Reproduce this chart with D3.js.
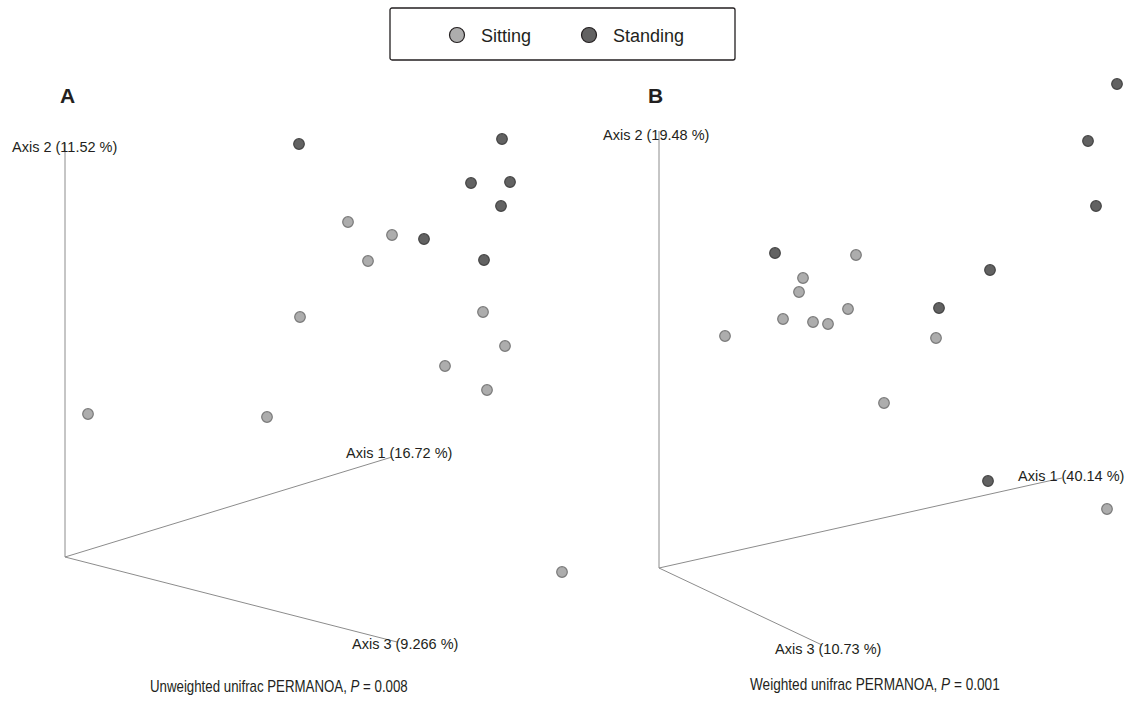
<!DOCTYPE html>
<html>
<head>
<meta charset="utf-8">
<script src="https://cdn.jsdelivr.net/npm/d3@7"></script>
<style>
  body { margin: 0; background: #fff; }
  text { font-family: "Liberation Sans", Arial, sans-serif; fill: #231f20; }
</style>
</head>
<body>
<div class="chart"></div>
<script>
// projected PCoA coordinates (screen plane, origin at axes corner)
var groups = ["Sitting", "Standing"];

var sitA = [[28.3,33.5],[32.7,32.2],[30.3,29.6],[23.5,24.0],[41.8,24.5],[44.0,21.1],
            [38.0,19.1],[42.2,16.7],[2.3,14.3],[20.2,14.0],[49.7,-1.5]];
var standA = [[23.4,41.3],[43.7,41.8],[40.6,37.4],[44.5,37.5],[43.6,35.1],[35.9,31.8],[41.9,29.7]];
var axesA = [[0,41.4],[32.7,10.0],[33.2,-8.5]];   // axis 2, axis 1, axis 3 tips
var axisLabelsA = ["Axis 2 (11.52 %)", "Axis 1 (16.72 %)", "Axis 3 (9.266 %)"];

var sitB = [[19.7,31.3],[14.4,29.0],[14.0,27.6],[18.9,25.9],[12.4,24.9],[15.4,24.6],
            [16.9,24.4],[6.6,23.2],[27.7,23.0],[22.5,16.5],[44.8,5.9]];
var standB = [[45.8,48.4],[42.9,42.7],[43.7,36.2],[11.6,31.5],[33.1,29.8],[28.0,26.0],[32.9,8.7]];
var axesB = [[0,43.7],[40.3,9.0],[16.3,-7.7]];
var axisLabelsB = ["Axis 2 (19.48 %)", "Axis 1 (40.14 %)", "Axis 3 (10.73 %)"];

var width = 1136, height = 722;
var fillCol = {Sitting: "#adadad", Standing: "#626262"};
var strokeCol = {Sitting: "#7a7a7a", Standing: "#444444"};

var svg = d3.select(".chart").append("svg")
    .attr("width", width)
    .attr("height", height);

// legend
var leg = svg.append("g").attr("transform", "translate(390,8)");
leg.append("rect")
    .attr("x", 0).attr("y", 0)
    .attr("width", 345).attr("height", 52)
    .attr("rx", 2)
    .style("fill", "#fff")
    .style("stroke", "#231f20")
    .style("stroke-width", 1.3);
var legX = d3.scalePoint().domain(groups).range([67, 199]);
groups.forEach(function(g) {
    leg.append("circle")
        .attr("cx", legX(g)).attr("cy", 27).attr("r", 7.5)
        .style("fill", fillCol[g])
        .style("stroke", "#231f20")
        .style("stroke-width", 1.2);
    leg.append("text")
        .attr("x", legX(g) + 24).attr("y", 33.5)
        .style("font-size", "18px")
        .text(g);
});

function drawPanel(p) {
    var x = d3.scaleLinear().domain([0, 50]).range([p.ox, p.ox + 500]);
    var y = d3.scaleLinear().domain([0, 45]).range([p.oy, p.oy - 450]);
    var g = svg.append("g");

    g.append("text")
        .attr("x", p.letterX).attr("y", 103)
        .style("font-size", "21px")
        .style("font-weight", "bold")
        .text(p.letter);

    g.selectAll(".axis-line")
        .data(p.axes)
      .enter().append("line")
        .attr("class", "axis-line")
        .attr("x1", x(0)).attr("y1", y(0))
        .attr("x2", function(d) { return x(d[0]); })
        .attr("y2", function(d) { return y(d[1]); })
        .style("stroke", "#8c8c8c")
        .style("stroke-width", 1);

    g.selectAll(".axis-label")
        .data(p.axisLabels)
      .enter().append("text")
        .attr("class", "axis-label")
        .attr("x", function(d, i) { return p.labelPos[i][0]; })
        .attr("y", function(d, i) { return p.labelPos[i][1]; })
        .style("font-size", "14.5px")
        .text(function(d) { return d; });

    var pts = p.sit.map(function(d) { return {v: d, grp: "Sitting"}; })
        .concat(p.stand.map(function(d) { return {v: d, grp: "Standing"}; }));

    g.selectAll(".dot")
        .data(pts)
      .enter().append("circle")
        .attr("class", "dot")
        .attr("r", 5.3)
        .attr("cx", function(d) { return x(d.v[0]); })
        .attr("cy", function(d) { return y(d.v[1]); })
        .style("fill", function(d) { return fillCol[d.grp]; })
        .style("stroke", function(d) { return strokeCol[d.grp]; })
        .style("stroke-width", 1.2);

    // caption, squeezed horizontally like the narrow face in the figure
    var capG = g.append("g");
    var cap = capG.append("text")
        .attr("x", 0).attr("y", 0)
        .style("font-size", "16px");
    cap.append("tspan").text(p.caption);
    cap.append("tspan").style("font-style", "italic").text("P");
    cap.append("tspan").text(" = " + p.pval);
    var w = cap.node().getComputedTextLength();
    capG.attr("transform", "translate(" + p.capX + "," + p.capY + ") scale(" + (p.capLen / w) + ",1)");
}

drawPanel({
    ox: 65, oy: 557, letter: "A", letterX: 60,
    sit: sitA, stand: standA, axes: axesA, axisLabels: axisLabelsA,
    labelPos: [[12, 152], [346, 458], [352, 649]],
    caption: "Unweighted unifrac PERMANOA, ", pval: "0.008",
    capX: 150, capY: 692, capLen: 258
});

drawPanel({
    ox: 659, oy: 568, letter: "B", letterX: 648,
    sit: sitB, stand: standB, axes: axesB, axisLabels: axisLabelsB,
    labelPos: [[603, 140], [1018, 481], [775, 654]],
    caption: "Weighted unifrac PERMANOA, ", pval: "0.001",
    capX: 750, capY: 690, capLen: 250
});
</script>
</body>
</html>
